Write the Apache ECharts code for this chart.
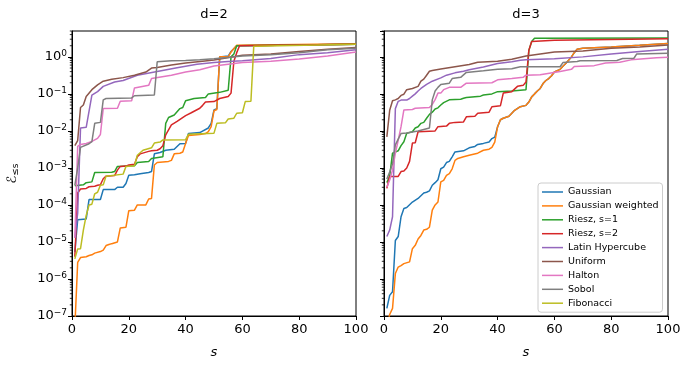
<!DOCTYPE html>
<html>
<head>
<meta charset="utf-8">
<script src="https://cdn.jsdelivr.net/npm/echarts@6/dist/echarts.min.js"></script>
<style>
html,body{margin:0;padding:0;background:#fff;}
#c{width:692px;height:369px;}
</style>
</head>
<body>
<div id="c"></div>
<script>
// ---------- data ----------
const seriesNames = ['Gaussian','Gaussian weighted','Riesz, s=1','Riesz, s=2','Latin Hypercube','Uniform','Halton','Sobol','Fibonacci'];
const panelTitles = ['d=2','d=3'];
const xTicks = [0,20,40,60,80,100];
const minorMultipliers = [2,3,4,5,6,7,8,9];
const decades = [-7,-6,-5,-4,-3,-2,-1,0];

// d = 2
const gaussian2 = [[1,5.4e-6],[2,4e-5],[5,4.2e-5],[6,1.4e-4],[10,1.4e-4],[11,2.6e-4],[15,2.6e-4],[16,3e-4],[18,3e-4],[19,3.8e-4],[20,6.3e-4],[22,6.5e-4],[24,7e-4],[27,7.5e-4],[28,8e-4],[29,2.4e-3],[31,2.6e-3],[33,3e-3],[36,3.2e-3],[38,4.5e-3],[40,4.6e-3],[41,8.5e-3],[45,9e-3],[48,1.2e-2],[49,1.6e-2],[50,3.7e-2],[51,4e-2],[52,1.0],[55,1.05],[56,1.4],[58,2.0],[100,2.2]];
const gaussW2 = [[1,5e-8],[2,2.8e-6],[3,3.8e-6],[5,4e-6],[6,4.3e-6],[7,4.5e-6],[8,5e-6],[10,5.5e-6],[11,6e-6],[12,8e-6],[13,8.5e-6],[14,9e-6],[16,1e-5],[17,2.4e-5],[19,2.5e-5],[20,7e-5],[22,7.2e-5],[23,1e-4],[26,1e-4],[27,1.45e-4],[28,1.5e-4],[29,1.2e-3],[30,1.4e-3],[34,1.5e-3],[35,1.6e-3],[36,2.4e-3],[38,2.5e-3],[39,2.7e-3],[40,4.6e-3],[41,7.5e-3],[45,8e-3],[47,8.5e-3],[48,9.5e-3],[49,1.3e-2],[50,3.5e-2],[51,3.8e-2],[52,1.0],[55,1.0],[56,1.35],[58,2.05],[100,2.25]];
const riesz1_2 = [[1,3.3e-4],[4,3.5e-4],[5,4e-4],[7,4.2e-4],[8,7.5e-4],[14,7.6e-4],[15,8e-4],[16,1.1e-3],[22,1.15e-3],[23,1.4e-3],[27,1.5e-3],[28,1.8e-3],[32,2e-3],[33,1.6e-2],[34,2.3e-2],[36,2.7e-2],[38,4e-2],[39,4.3e-2],[40,6.5e-2],[43,7.5e-2],[47,8e-2],[48,1.0e-1],[52,1.1e-1],[55,1.25e-1],[56,1.0],[57,1.2],[58,2.0],[100,2.2]];
const riesz2_2 = [[1,4e-6],[2,2.1e-4],[3,2.7e-4],[5,2.8e-4],[6,3.1e-4],[8,3.2e-4],[9,3.4e-4],[10,3.5e-4],[11,5.1e-4],[12,6e-4],[15,6.2e-4],[16,8.7e-4],[17,1.1e-3],[19,1.12e-3],[20,1.2e-3],[22,1.25e-3],[23,2e-3],[24,2.4e-3],[27,2.8e-3],[28,2.9e-3],[30,3e-3],[31,3.3e-3],[32,4e-3],[33,7.8e-3],[35,1.45e-2],[37,1.8e-2],[40,2.6e-2],[42,3.1e-2],[45,4.1e-2],[46,4.9e-2],[47,6e-2],[50,6.2e-2],[52,7.5e-2],[55,8.5e-2],[56,1.05e-1],[57,0.76],[58,1.3],[59,2.0],[100,2.2]];
const latin2 = [[1,1.3e-5],[2,6e-5],[3,1.2e-2],[5,1.25e-2],[7,9.3e-2],[9,1.15e-1],[11,1.6e-1],[15,2.1e-1],[18,2.3e-1],[23,3.2e-1],[30,4e-1],[37,5.1e-1],[44,6.3e-1],[50,7e-1],[55,7.5e-1],[60,7.8e-1],[70,9e-1],[80,1.15],[90,1.3],[100,1.55]];
const uniform2 = [[1,4e-3],[2,5.5e-3],[3,4.3e-2],[4,5e-2],[5,8.5e-2],[7,1.3e-1],[9,1.75e-1],[11,2.2e-1],[14,2.5e-1],[18,2.75e-1],[22,3.2e-1],[26,3.9e-1],[28,5e-1],[30,5.2e-1],[35,6e-1],[40,6.8e-1],[46,7.6e-1],[50,8.2e-1],[60,1.1],[70,1.2],[80,1.4],[90,1.6],[100,1.78]];
const halton2 = [[1,1.3e-5],[2,3.8e-3],[3,4.3e-3],[5,4.6e-3],[7,5.2e-3],[9,6.3e-3],[10,8e-3],[11,4e-2],[16,4.1e-2],[17,6.3e-2],[21,6.5e-2],[22,1.45e-1],[27,1.7e-1],[28,2.6e-1],[35,3.2e-1],[40,3.9e-1],[45,4.5e-1],[50,5.7e-1],[60,7e-1],[70,7.6e-1],[80,8.8e-1],[90,1.05],[100,1.35]];
const sobol2 = [[1,3.4e-4],[2,1e-3],[3,3.6e-3],[6,4.5e-3],[7,5.1e-3],[8,1.6e-2],[10,1.7e-2],[11,6.9e-2],[12,7.5e-2],[21,7.8e-2],[22,8.9e-2],[29,9.3e-2],[30,7.4e-1],[35,7.8e-1],[40,8e-1],[45,8.3e-1],[50,8.9e-1],[60,1.05],[70,1.15],[80,1.3],[90,1.55],[100,1.7]];
const fibo2 = [[1,3.5e-6],[2,6.5e-6],[3,6.6e-6],[4,2.1e-5],[5,5.2e-5],[6,1e-4],[7,1.05e-4],[8,2e-4],[9,2.2e-4],[10,3.4e-4],[11,3.5e-4],[12,6e-4],[18,6.8e-4],[19,1.1e-3],[22,1.15e-3],[23,2.2e-3],[25,3e-3],[28,3.5e-3],[29,4.7e-3],[31,5e-3],[32,5.7e-3],[40,5.8e-3],[41,8.1e-3],[50,8.7e-3],[51,1.6e-2],[54,1.65e-2],[55,2.1e-2],[57,2.2e-2],[58,3e-2],[60,3.1e-2],[61,6.2e-2],[63,6.3e-2],[64,1.95],[100,2.2]];

// d = 3
const gaussian3 = [[1,1.6e-7],[2,3.6e-7],[3,4.5e-7],[4,1.1e-5],[5,1.4e-5],[6,4.8e-5],[7,8e-5],[8,8.5e-5],[10,1.2e-4],[12,1.5e-4],[14,2.1e-4],[15,2.2e-4],[16,2.4e-4],[17,3.4e-4],[18,4e-4],[19,4.8e-4],[20,9.5e-4],[21,1.05e-3],[22,1.4e-3],[23,1.5e-3],[24,2e-3],[25,2.7e-3],[28,2.9e-3],[30,3.5e-3],[32,3.8e-3],[33,4.3e-3],[35,4.6e-3],[37,5e-3],[38,6.2e-3],[39,6.8e-3],[40,1.3e-2],[41,2e-2],[42,2.2e-2],[44,2.5e-2],[45,3e-2],[46,3.6e-2],[48,4.5e-2],[50,4.9e-2],[51,6e-2],[52,8.3e-2],[53,1e-1],[54,1.2e-1],[55,1.4e-1],[56,1.9e-1],[57,2.3e-1],[58,2.6e-1],[59,3.1e-1],[60,3.9e-1],[62,4.6e-1],[63,5.6e-1],[64,6.6e-1],[65,8.1e-1],[66,1.0],[67,1.3],[68,1.6],[70,1.7],[80,1.85],[90,2.05],[100,2.3]];
const gaussW3 = [[1,5e-8],[2,1.1e-7],[3,1.6e-7],[4,1.4e-6],[5,2.1e-6],[6,2.3e-6],[7,2.6e-6],[9,2.9e-6],[10,6.6e-6],[11,8.1e-6],[12,1.2e-5],[13,1.5e-5],[14,2.1e-5],[15,2.2e-5],[16,2.5e-5],[17,7.2e-5],[18,1e-4],[19,1.2e-4],[20,4.2e-4],[21,4.6e-4],[22,6.3e-4],[23,7e-4],[24,9.5e-4],[25,1.6e-3],[26,1.8e-3],[28,2e-3],[30,2.2e-3],[33,2.5e-3],[35,3e-3],[37,3.2e-3],[38,3.6e-3],[39,5e-3],[40,1.3e-2],[41,2e-2],[42,2.2e-2],[44,2.5e-2],[45,3e-2],[46,3.6e-2],[48,4.5e-2],[50,4.9e-2],[51,6e-2],[52,8.3e-2],[53,1e-1],[54,1.2e-1],[55,1.4e-1],[56,1.9e-1],[57,2.3e-1],[58,2.6e-1],[59,3.1e-1],[60,3.9e-1],[62,4.6e-1],[63,5.6e-1],[64,6.6e-1],[65,8.1e-1],[66,1.0],[67,1.3],[68,1.6],[70,1.7],[80,1.85],[90,2.05],[100,2.3]];
const riesz1_3 = [[1,4e-4],[2,6e-4],[3,2.5e-3],[4,2.7e-3],[5,2.9e-3],[6,4e-3],[7,5.1e-3],[8,8.7e-3],[10,9.5e-3],[11,1.2e-2],[12,1.3e-2],[13,1.6e-2],[14,1.7e-2],[15,2.2e-2],[16,2.8e-2],[17,3.2e-2],[18,3.9e-2],[19,4.2e-2],[20,5e-2],[21,5.8e-2],[23,6.9e-2],[27,7.2e-2],[28,7.6e-2],[29,8e-2],[34,8.7e-2],[35,9.3e-2],[38,1e-1],[40,1.15e-1],[45,1.2e-1],[50,1.3e-1],[51,1.5],[52,2.6],[53,3.2],[100,3.25]];
const riesz2_3 = [[1,2.8e-4],[2,5.9e-4],[5,5.9e-4],[6,8e-4],[7,8.3e-4],[8,1e-3],[9,1.5e-3],[10,4.7e-3],[11,4.8e-3],[12,9.5e-3],[18,1e-2],[19,1.3e-2],[22,1.35e-2],[23,1.6e-2],[25,1.7e-2],[28,1.75e-2],[29,2.4e-2],[32,2.5e-2],[33,3e-2],[37,3.2e-2],[38,4.5e-2],[41,4.8e-2],[42,1.05e-1],[45,1.15e-1],[47,1.6e-1],[49,1.7e-1],[50,2.1e-1],[51,1.5],[52,2.6],[60,2.8],[100,3.1]];
const latin3 = [[1,1.4e-5],[2,2.1e-5],[3,4.8e-5],[4,4e-2],[5,6.3e-2],[6,6.8e-2],[8,6.8e-2],[9,7.5e-2],[10,8.7e-2],[11,1e-1],[12,1.2e-1],[13,1.4e-1],[15,1.8e-1],[17,2.2e-1],[20,2.7e-1],[22,3.2e-1],[25,3.7e-1],[28,4.1e-1],[30,4.5e-1],[35,5.3e-1],[40,6.6e-1],[45,7.4e-1],[48,8.1e-1],[50,8.3e-1],[60,8.9e-1],[70,1.0],[80,1.2],[90,1.4],[100,1.6]];
const uniform3 = [[1,6.9e-3],[2,3.6e-2],[3,6.5e-2],[4,6.9e-2],[5,7.5e-2],[6,9.1e-2],[7,9.8e-2],[8,1.3e-1],[10,1.4e-1],[12,1.6e-1],[13,2.2e-1],[14,2.5e-1],[15,3.2e-1],[16,4.1e-1],[17,4.3e-1],[20,4.7e-1],[25,5.4e-1],[30,6.2e-1],[33,7.2e-1],[40,7.6e-1],[45,8.6e-1],[50,1.05],[55,1.2],[60,1.35],[70,1.45],[80,1.7],[90,1.85],[100,2.1]];
const halton3 = [[1,3e-4],[2,4.7e-4],[3,8.7e-4],[4,2.5e-3],[5,5.6e-3],[6,1.3e-2],[7,3.7e-2],[10,3.8e-2],[11,4.1e-2],[16,4.3e-2],[17,5.2e-2],[18,7e-2],[19,1.05e-1],[20,1.05e-1],[21,1.3e-1],[23,1.5e-1],[27,1.5e-1],[29,1.95e-1],[38,2e-1],[40,2.4e-1],[45,2.6e-1],[49,2.8e-1],[50,3.2e-1],[55,3.3e-1],[62,4e-1],[66,4.6e-1],[67,5.5e-1],[74,5.8e-1],[78,6.8e-1],[83,7.2e-1],[87,8.3e-1],[96,9.5e-1],[100,9.8e-1]];
const sobol3 = [[1,5e-4],[2,7.8e-4],[3,1.3e-3],[4,4.2e-3],[5,6e-3],[6,8.5e-3],[8,8.8e-3],[12,1e-2],[15,1.15e-2],[16,1.2e-2],[17,6.9e-2],[18,1.2e-1],[19,1.5e-1],[20,1.8e-1],[23,1.95e-1],[24,2.6e-1],[27,2.8e-1],[29,3.8e-1],[35,4.2e-1],[40,4.6e-1],[45,4.8e-1],[48,5.4e-1],[62,5.4e-1],[63,7e-1],[68,7.5e-1],[69,7.9e-1],[82,8e-1],[84,9e-1],[88,9.2e-1],[89,1.2],[100,1.25]];
const fibo3 = [];

const panelData = [
  [gaussian2, gaussW2, riesz1_2, riesz2_2, latin2, uniform2, halton2, sobol2, fibo2],
  [gaussian3, gaussW3, riesz1_3, riesz2_3, latin3, uniform3, halton3, sobol3, fibo3]
];

// ---------- styles ----------
const colors = ['#1f77b4','#ff7f0e','#2ca02c','#d62728','#9467bd','#8c564b','#e377c2','#7f7f7f','#bcbd22'];
const FONT = 'DejaVu Sans';
const gridLefts = [72, 384];
const gridW = 284, gridTop = 31, gridH = 285;

const minorTicks = [];
decades.forEach(d => minorMultipliers.forEach(m => { const v = m * Math.pow(10, d); if (v <= 5) minorTicks.push([0, v]); }));

function supLabel(v) {
  const e = Math.round(Math.log10(v));
  return '{b|10}{sup|' + (e < 0 ? '\u2212' + (-e) : String(e)) + '}';
}

const grids = [], xAxes = [], yAxes = [], titles = [], series = [];
for (let p = 0; p < 2; p++) {
  grids.push({left: gridLefts[p], top: gridTop, width: gridW, height: gridH, show: true,
    borderColor: '#000', borderWidth: 1, backgroundColor: 'rgba(0,0,0,0)', containLabel: false});
  titles.push({text: panelTitles[p], left: gridLefts[p] + gridW / 2, top: 8, textAlign: 'center', padding: 0,
    textStyle: {fontFamily: FONT, fontSize: 13, fontWeight: 'normal', color: '#000'}});
  xAxes.push({type: 'value', gridIndex: p, min: 0, max: 100, interval: 20,
    name: 's', nameLocation: 'middle', nameGap: 30,
    nameTextStyle: {fontFamily: FONT, fontSize: 13, fontStyle: 'italic', color: '#000'},
    axisLine: {show: true, lineStyle: {color: '#000', width: 1}},
    axisTick: {show: true, inside: false, length: 4, lineStyle: {color: '#000', width: 1}},
    axisLabel: {show: true, color: '#000', fontFamily: FONT, fontSize: 13, margin: 7},
    splitLine: {show: false}});
  yAxes.push({type: 'log', logBase: 10, gridIndex: p, min: 1e-7, max: 5, interval: 1,
    name: p === 0 ? '{e|\u2130}{s|\u2264s}' : '', nameLocation: 'middle', nameGap: 52, nameRotate: 90,
    nameTextStyle: {color: '#000', rich: {e: {fontFamily: FONT, fontSize: 13, color: '#000'},
      s: {fontFamily: FONT, fontSize: 9, color: '#000', padding: [6, 0, 0, 0]}}},
    axisLine: {show: true, lineStyle: {color: '#000', width: 1}},
    axisTick: {show: true, inside: false, length: 4, lineStyle: {color: '#000', width: 1}},
    axisLabel: {show: p === 0, showMaxLabel: false, color: '#000', margin: 5, formatter: supLabel,
      rich: {b: {fontFamily: FONT, fontSize: 13, color: '#000'},
        sup: {fontFamily: FONT, fontSize: 9, color: '#000', padding: [0, 0, 7, 0]}}},
    splitLine: {show: false}});
  for (let i = 0; i < seriesNames.length; i++) {
    series.push({type: 'line', name: seriesNames[i], xAxisIndex: p, yAxisIndex: p,
      data: panelData[p][i], symbol: 'none', showSymbol: false, clip: true,
      lineStyle: {color: colors[i], width: 1.5}, itemStyle: {color: colors[i]},
      emphasis: {disabled: true}, silent: true});
  }
  series.push({type: 'custom', xAxisIndex: p, yAxisIndex: p, data: minorTicks, silent: true,
    renderItem: function (params, api) {
      const pt = api.coord([api.value(0), api.value(1)]);
      return {type: 'line', shape: {x1: pt[0] - 2.2, y1: pt[1], x2: pt[0], y2: pt[1]},
        style: {stroke: '#000', lineWidth: 0.8}};
    }});
}

const chart = echarts.init(document.getElementById('c'), null, {renderer: 'canvas'});
chart.setOption({
  animation: false,
  backgroundColor: '#fff',
  title: titles,
  grid: grids,
  xAxis: xAxes,
  yAxis: yAxes,
  legend: {data: seriesNames, orient: 'vertical', left: 538, top: 183, icon: 'rect',
    itemWidth: 21, itemHeight: 1.5, itemGap: 3.9, padding: [4, 4, 4, 4],
    backgroundColor: 'rgba(255,255,255,0.8)', borderColor: '#cccccc', borderWidth: 1, borderRadius: 3,
    textStyle: {fontFamily: FONT, fontSize: 9.5, lineHeight: 10, color: '#000'}, selectedMode: false},
  series: series
});
</script>
</body>
</html>
